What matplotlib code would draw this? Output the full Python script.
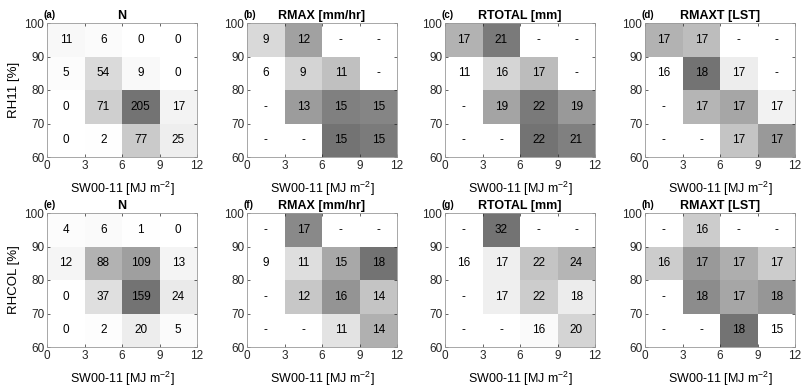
import os
import numpy as np
import matplotlib
matplotlib.use("Agg")
import matplotlib.pyplot as plt
from matplotlib import font_manager as fm
from matplotlib.colors import LinearSegmentedColormap

OUT_PATH = "out.png"

plt.rcParams["font.family"] = ["Liberation Sans", "DejaVu Sans"]
plt.rcParams["mathtext.default"] = "regular"

nan = np.nan

SW_EDGES = [0, 3, 6, 9, 12]
RH_EDGES = [100, 90, 80, 70, 60]   # rows are listed top to bottom
SW_TICKS = [0, 3, 6, 9, 12]
RH_TICKS = [60, 70, 80, 90, 100]

PANEL_LABELS = ["(a)", "(b)", "(c)", "(d)", "(e)", "(f)", "(g)", "(h)"]
TITLES = ["N", "RMAX [mm/hr]", "RTOTAL [mm]", "RMAXT [LST]"]
ROW_YLABELS = ["RH11 [%]", "RHCOL [%]"]
XLABEL = "SW00-11 [MJ m$^{-2}$]"

# values shown in each cell, rows 90-100, 80-90, 70-80, 60-70 (nan = "-")
n_rh11 = [[11, 6, 0, 0],
          [5, 54, 9, 0],
          [0, 71, 205, 17],
          [0, 2, 77, 25]]
rmax_rh11 = [[9, 12, nan, nan],
             [6, 9, 11, nan],
             [nan, 13, 15, 15],
             [nan, nan, 15, 15]]
rtotal_rh11 = [[17, 21, nan, nan],
               [11, 16, 17, nan],
               [nan, 19, 22, 19],
               [nan, nan, 22, 21]]
rmaxt_rh11 = [[17, 17, nan, nan],
              [16, 18, 17, nan],
              [nan, 17, 17, 17],
              [nan, nan, 17, 17]]

n_rhcol = [[4, 6, 1, 0],
           [12, 88, 109, 13],
           [0, 37, 159, 24],
           [0, 2, 20, 5]]
rmax_rhcol = [[nan, 17, nan, nan],
              [9, 11, 15, 18],
              [nan, 12, 16, 14],
              [nan, nan, 11, 14]]
rtotal_rhcol = [[nan, 32, nan, nan],
                [16, 17, 22, 24],
                [nan, 17, 22, 18],
                [nan, nan, 16, 20]]
rmaxt_rhcol = [[nan, 16, nan, nan],
               [16, 17, 17, 17],
               [nan, 18, 17, 18],
               [nan, nan, 18, 15]]

# shading level (0 = white, 1 = darkest) of the rain panels, read off the
# grey scale since it follows the unrounded values
rmax_rh11_shade = [[0.27, 0.67, nan, nan],
                   [0.0, 0.31, 0.45, nan],
                   [nan, 0.71, 0.91, 0.87],
                   [nan, nan, 1.0, 0.94]]
rtotal_rh11_shade = [[0.55, 0.95, nan, nan],
                     [0.0, 0.30, 0.48, nan],
                     [nan, 0.65, 0.95, 0.73],
                     [nan, nan, 1.0, 0.91]]
rmaxt_rh11_shade = [[0.55, 0.47, nan, nan],
                    [0.0, 1.0, 0.13, nan],
                    [nan, 0.53, 0.64, 0.09],
                    [nan, nan, 0.42, 0.73]]
rmax_rhcol_shade = [[nan, 0.84, nan, nan],
                    [0.0, 0.24, 0.62, 1.0],
                    [nan, 0.40, 0.76, 0.42],
                    [nan, nan, 0.20, 0.56]]
rtotal_rhcol_shade = [[nan, 1.0, nan, nan],
                      [0.0, 0.12, 0.42, 0.53],
                      [nan, 0.12, 0.36, 0.14],
                      [nan, nan, 0.04, 0.31]]
rmaxt_rhcol_shade = [[nan, 0.36, nan, nan],
                     [0.36, 0.73, 0.58, 0.36],
                     [nan, 0.82, 0.64, 0.75],
                     [nan, nan, 1.0, 0.0]]

GREYS = LinearSegmentedColormap.from_list("greys", ["#ffffff", "#737373"])
GREYS.set_bad("white")
EDGE = "#262626"


def bold_font(size):
    # make sure the bold face is the regular-width one, not the Narrow one
    for f in fm.fontManager.ttflist:
        if os.path.basename(f.fname) == "LiberationSans-Bold.ttf":
            return fm.FontProperties(fname=f.fname, size=size)
    return fm.FontProperties(family="Liberation Sans", weight="bold", size=size)


def draw_panel(ax, vals, shade, label, title):
    vals = np.array(vals, dtype=float)
    if shade is None:
        shade = vals / np.nanmax(vals)
    shade = np.ma.masked_invalid(np.array(shade, dtype=float))

    ax.pcolormesh(SW_EDGES, RH_EDGES, shade, cmap=GREYS, vmin=0, vmax=1)

    for i in range(vals.shape[0]):
        for j in range(vals.shape[1]):
            x = (SW_EDGES[j] + SW_EDGES[j + 1]) / 2
            y = (RH_EDGES[i] + RH_EDGES[i + 1]) / 2
            txt = "-" if np.isnan(vals[i, j]) else f"{vals[i, j]:.0f}"
            ax.text(x, y, txt, ha="center", va="center", fontsize=8.5)

    ax.set_xlim(0, 12)
    ax.set_ylim(60, 100)
    ax.set_xticks(SW_TICKS)
    ax.set_yticks(RH_TICKS)
    ax.tick_params(direction="in", length=2, width=0.5, labelsize=8.5,
                   top=True, right=True, pad=2, colors=EDGE,
                   labelcolor="#262626")
    for sp in ax.spines.values():
        sp.set_color("#999999")
        sp.set_linewidth(0.6)

    ax.set_xlabel(XLABEL, fontsize=9, labelpad=6)
    ax.set_title(title, fontproperties=bold_font(9), pad=3)
    ax.text(-0.02, 1.025, label, transform=ax.transAxes,
            fontproperties=bold_font(7), ha="left", va="bottom")


def main():
    values = [n_rh11, rmax_rh11, rtotal_rh11, rmaxt_rh11,
              n_rhcol, rmax_rhcol, rtotal_rhcol, rmaxt_rhcol]
    shades = [None, rmax_rh11_shade, rtotal_rh11_shade, rmaxt_rh11_shade,
              None, rmax_rhcol_shade, rtotal_rhcol_shade, rmaxt_rhcol_shade]

    fig = plt.figure(figsize=(8.01, 3.89), dpi=100)
    lefts = [47, 247, 445, 645]
    tops = [23, 213]
    w, h = 150, 134

    for k in range(8):
        row, col = divmod(k, 4)
        ax = fig.add_axes([lefts[col] / 801, 1 - (tops[row] + h) / 389,
                           w / 801, h / 389])
        draw_panel(ax, values[k], shades[k], PANEL_LABELS[k], TITLES[col])
        if col == 0:
            ax.set_ylabel(ROW_YLABELS[row], fontsize=9.5, labelpad=3)

    fig.savefig(OUT_PATH, dpi=100)


if __name__ == "__main__":
    main()
